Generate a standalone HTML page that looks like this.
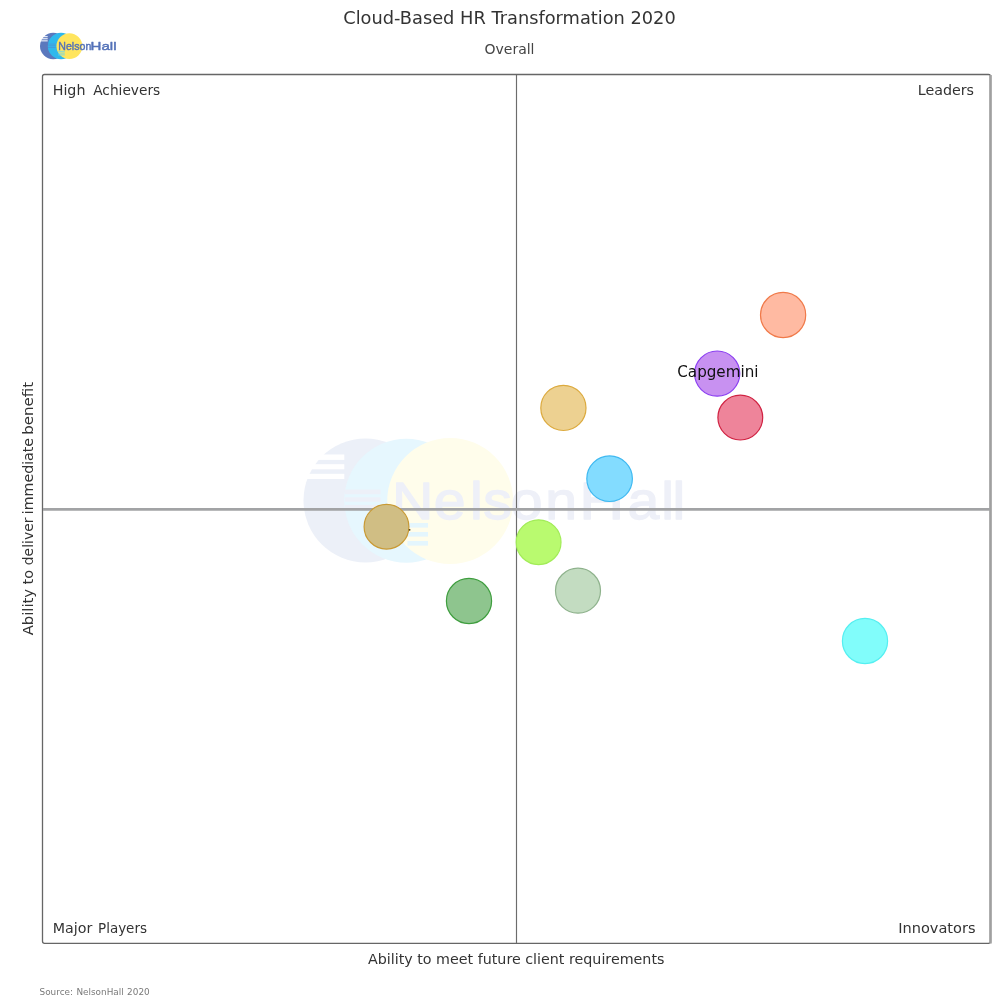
<!DOCTYPE html>
<html lang="en">
<head>
<meta charset="utf-8">
<title>Cloud-Based HR Transformation 2020</title>
<style>
html,body{margin:0;padding:0;background:#fff;}
body{width:1000px;height:1000px;overflow:hidden;font-family:"DejaVu Sans","Liberation Sans",sans-serif;}
svg{display:block;}
text{font-family:"DejaVu Sans","Liberation Sans",sans-serif;fill:#333333;}
.lbl{font-size:14.25px;}
.wm{font-family:"Liberation Sans",sans-serif;font-weight:bold;}
</style>
</head>
<body>
<svg width="1000" height="1000" viewBox="0 0 1000 1000">
  <rect x="0" y="0" width="1000" height="1000" fill="#ffffff"/>

  <!-- watermark -->
  <g id="watermark">
    <circle cx="365.5" cy="500.5" r="62" fill="#ecf0f8"/>
    <g fill="#ffffff">
      <rect x="300" y="454.5" width="44.3" height="5.4"/>
      <rect x="300" y="464.2" width="44.3" height="5.1"/>
      <rect x="300" y="473.8" width="44.3" height="5.2"/>
    </g>
    <circle cx="406.3" cy="500.7" r="62" fill="#e6f7fe"/>
    <g fill="#edf0f8">
      <rect x="345" y="489.6" width="35.5" height="4.6"/>
      <rect x="345" y="497.3" width="35.5" height="4.4"/>
      <rect x="345" y="504.9" width="35.5" height="4.4"/>
    </g>
    <circle cx="450.2" cy="501" r="63" fill="#fffdeb"/>
    <g fill="#e4f6fd">
      <rect x="407.5" y="523" width="20.5" height="4.6"/>
      <rect x="407.5" y="532" width="20.5" height="4.6"/>
      <rect x="407.5" y="541" width="20.5" height="4.6"/>
    </g>
    <text class="wm" transform="scale(1.09,1)" x="359.7 397.9 431.3 443.3 468.5 500.2 531.4 575.7 606.6 617.1" y="519.3" font-size="52.5" style="fill:#eef0f8;stroke:#eef0f8;stroke-width:1.3;stroke-linejoin:round;font-weight:normal">Nelson<tspan textLength="41.3" lengthAdjust="spacingAndGlyphs">H</tspan>all</text>
  </g>

  <!-- plot frame -->
  <rect x="42.5" y="74.5" width="948" height="868.8" rx="2" ry="2" fill="none" stroke="#666666" stroke-width="1.3"/>
  <line x1="990.5" y1="75" x2="990.5" y2="943.5" stroke="#a0a0a0" stroke-width="2.6"/>
  <!-- axes -->
  <line x1="516.5" y1="75" x2="516.5" y2="943" stroke="#6c6c6c" stroke-width="1.15"/>
  <line x1="43" y1="509.4" x2="990" y2="509.4" stroke="#a2a3a5" stroke-width="2.7"/>

  <!-- title -->
  <text x="509.5" y="24.3" font-size="17.8" text-anchor="middle" style="fill:#333">Cloud-Based HR Transformation 2020</text>
  <text x="509.5" y="53.5" font-size="14" text-anchor="middle" style="fill:#444">Overall</text>

  <!-- quadrant labels -->
  <text class="lbl" y="95"><tspan x="52.7">High</tspan> <tspan x="93.2" textLength="67" lengthAdjust="spacingAndGlyphs">Achievers</tspan></text>
  <text class="lbl" x="974" y="95" text-anchor="end">Leaders</text>
  <text class="lbl" y="933"><tspan x="52.7">Major</tspan> <tspan x="98" textLength="49" lengthAdjust="spacingAndGlyphs">Players</tspan></text>
  <text class="lbl" x="898.2" y="933" textLength="77.3" lengthAdjust="spacingAndGlyphs">Innovators</text>

  <!-- axis labels -->
  <text x="516.2" y="963.7" font-size="14.28" text-anchor="middle">Ability to meet future client requirements</text>
  <text transform="translate(32.9,509) rotate(-90)" y="0" font-size="14.3"><tspan x="-126.3" textLength="46.4" lengthAdjust="spacingAndGlyphs">Ability</tspan> <tspan x="-75.5" textLength="14.5" lengthAdjust="spacingAndGlyphs">to</tspan> <tspan x="-56.3" textLength="47.8" lengthAdjust="spacingAndGlyphs">deliver</tspan> <tspan x="-5.2" textLength="76.3" lengthAdjust="spacingAndGlyphs">immediate</tspan> <tspan x="74.2" textLength="52.9" lengthAdjust="spacingAndGlyphs">benefit</tspan></text>

  <!-- source -->
  <text x="39.5" y="995.4" font-size="8.9" word-spacing="0.6" style="fill:#7a7a7a">Source: NelsonHall 2020</text>

  <!-- logo -->
  <g id="logo">
    <circle cx="53.2" cy="46" r="13.2" fill="#5b78bd"/>
    <g fill="#ffffff" opacity="0.92">
      <rect x="39" y="36.1" width="8.7" height="1.1"/>
      <rect x="39" y="38.2" width="8.7" height="1.1"/>
      <rect x="39" y="40.3" width="8.7" height="1.1"/>
    </g>
    <circle cx="61" cy="46" r="13.2" fill="#2fb8ec"/>
    <g fill="#4f8fd6" opacity="0.75">
      <rect x="48" y="43.6" width="7.8" height="0.9"/>
      <rect x="48" y="45.3" width="7.8" height="0.9"/>
      <rect x="48" y="47" width="7.8" height="0.9"/>
    </g>
    <circle cx="69.4" cy="46.2" r="12.9" fill="#ffe55e"/>
    <g fill="#6fd8e8" opacity="0.9">
      <rect x="58.2" y="50.8" width="6.6" height="1"/>
      <rect x="58.2" y="52.6" width="6.6" height="1"/>
      <rect x="58.2" y="54.4" width="6.6" height="1"/>
    </g>
    <text class="wm" y="50.1" font-size="11.6" style="fill:#5472b8;stroke:#5472b8;stroke-width:0.45;stroke-linejoin:round;font-weight:normal"><tspan x="58.3" textLength="33" lengthAdjust="spacingAndGlyphs">Nelson</tspan><tspan x="90.6" textLength="26" lengthAdjust="spacingAndGlyphs">Hall</tspan></text>
  </g>

  <!-- bubbles -->
  <g stroke-width="1.2">
    <circle cx="386.5" cy="526.7" r="22.4" fill="#d0be84" stroke="#c99a34"/>
    <circle cx="409.6" cy="529.8" r="0.9" fill="#4a3c14" stroke="none"/>
    <circle cx="469" cy="601" r="22.6" fill="#8ec58e" stroke="#3f9e3f"/>
    <circle cx="538.6" cy="542.2" r="22.4" fill="#b9fa6f" stroke="#a2ec58"/>
    <circle cx="578" cy="590.7" r="22.5" fill="#c3dcc1" stroke="#8eb28c"/>
    <circle cx="563.4" cy="407.9" r="22.6" fill="#edd191" stroke="#dcaa3e"/>
    <circle cx="609.6" cy="478.7" r="22.8" fill="#83dcff" stroke="#3fb9f1"/>
    <circle cx="783.1" cy="315" r="22.6" fill="#ffbaa2" stroke="#f07a4a"/>
    <circle cx="717.2" cy="373.6" r="22.6" fill="#c891f1" stroke="#8b3ff1"/>
    <circle cx="740.3" cy="417.6" r="22.4" fill="#ee849a" stroke="#d02242"/>
    <circle cx="865" cy="641" r="22.6" fill="#81fdfb" stroke="#55eff1"/>
  </g>
  <text x="677.3" y="377" font-size="15.15" style="fill:#111">Capgemini</text>
</svg>
</body>
</html>
